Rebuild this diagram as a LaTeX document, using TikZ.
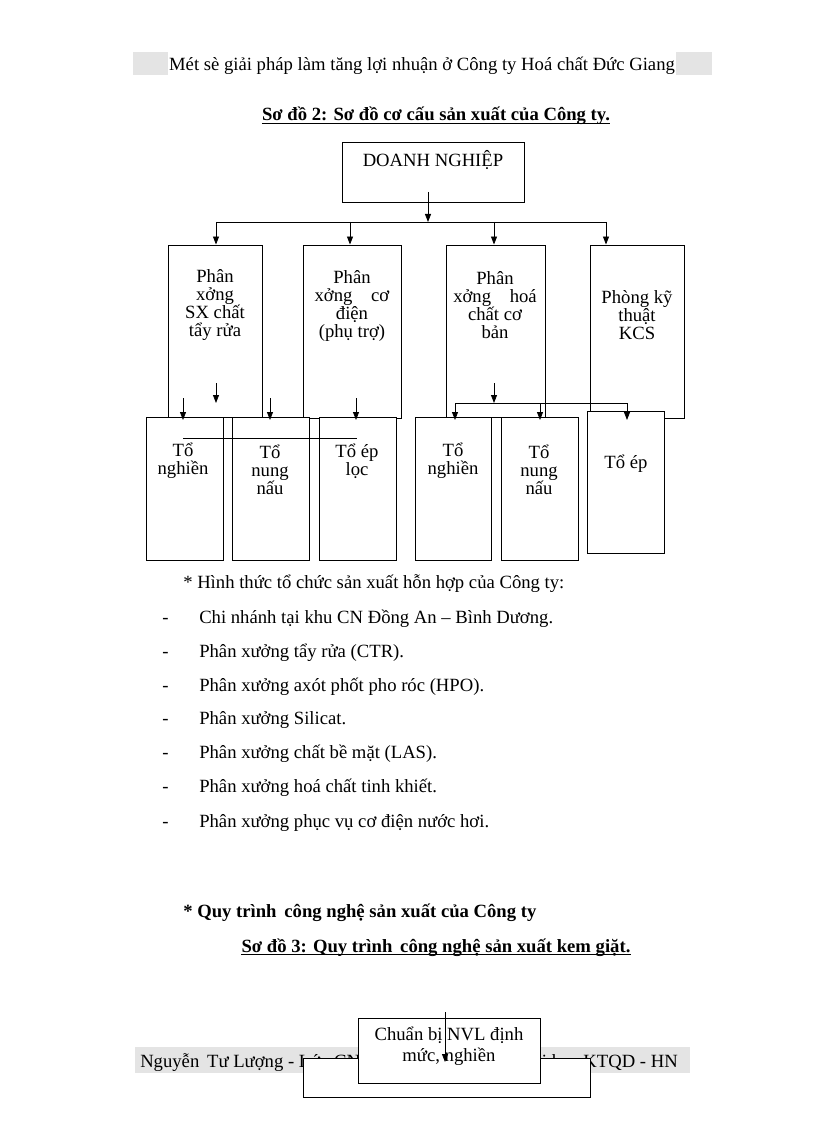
\documentclass[tikz,border=0pt]{standalone}
\usepackage{fontspec}
\setmainfont{Liberation Serif}
\usetikzlibrary{arrows.meta,fit}
\definecolor{band}{RGB}{228,228,228}
\begin{document}
\begin{tikzpicture}[x=0.75pt,y=-0.75pt,
  bx/.style={draw, line width=0.7pt, fill=white, inner sep=0pt},
  ar/.style={-{Triangle[length=6pt,width=4.5pt]}, line width=0.6pt},
  ln/.style={line width=0.6pt},
  ul/.style={line width=0.8pt},
  txt/.style={inner sep=0pt, font=\fontsize{14}{13.6}\selectfont, align=center},
  body/.style={inner sep=0pt, font=\fontsize{14}{16}\selectfont, anchor=base west},
  ctr/.style={inner sep=0pt, font=\fontsize{14}{16}\selectfont\bfseries, anchor=base},
]
\useasboundingbox (0,0) rectangle (816,1123);
% header
\fill[band] (133,52) rectangle (168,75);
\fill[band] (676,52) rectangle (712,75);
\node[inner sep=0pt, font=\fontsize{14}{16}\selectfont, anchor=base] (hdr) at (422,71) {Mét sè giải pháp làm tăng lợi nhuận ở Công ty Hoá chất Đức Giang};
\node[ctr] (t2) at (436,121) {Sơ đồ 2: Sơ đồ cơ cấu sản xuất của Công ty.};
\draw[ul] ([yshift=-2.2pt]t2.base west) -- ([yshift=-2.2pt]t2.base east);
% top box
\node[bx, fit={(342,142) (524,202)}] (dn) {};
\node[inner sep=0pt, font=\fontsize{14}{16}\selectfont, anchor=base] (dnt) at (433,167) {DOANH NGHIỆP};
\coordinate (bus) at (428,222);
\draw[ar] (428,192) -- (bus);
\draw[ln] (216,222) -- (606,222);
% level 2
\node[bx, fit={(168,245) (262,417)}] (pA) {};
\node[bx, fit={(303,245) (401,418)}] (pB) {};
\node[bx, fit={(446,245) (545,417)}] (pC) {};
\node[bx, fit={(590,245) (684,418)}] (pD) {};
\draw[ar] (216,222) -- (216,0 |- pA.north);
\draw[ar] (350,222) -- (350,0 |- pB.north);
\draw[ar] (494,222) -- (494,0 |- pC.north);
\draw[ar] (606,222) -- (606,0 |- pD.north);
\node[txt] (pAt) at (215,305) {Phân\\xởng\\SX chất\\tẩy rửa};
\node[txt] (pBt) at (352,306) {Phân\\xởng\quad cơ\\điện\\(phụ trợ)};
\node[txt] (pCt) at (495,305) {Phân\\xởng\quad hoá\\chất cơ\\bản};
\node[txt] (pDt) at (637,315) {Phòng kỹ\\thuật\\KCS};
% level 3
\node[bx, fit={(146,417) (223,560)}] (q1) {};
\node[bx, fit={(232,417) (309,560)}] (q2) {};
\node[bx, fit={(319,417) (396,560)}] (q3) {};
\node[bx, fit={(415,417) (491,560)}] (q4) {};
\node[bx, fit={(501,417) (578,560)}] (q5) {};
\node[bx, fit={(587,411) (664,553)}] (q6) {};
\node[txt] (q1t) at (183,461) {Tổ\\nghiền};
\node[txt] (q2t) at (270,470) {Tổ\\nung\\nấu};
\node[txt] (q3t) at (357,461) {Tổ ép\\lọc};
\node[txt] (q4t) at (453,461) {Tổ\\nghiền};
\node[txt] (q5t) at (539,470) {Tổ\\nung\\nấu};
\node[txt] (q6t) at (626,464) {Tổ ép};
% connectors level 3 (left)
\draw[ar] (216,383) -- (216,403);
\draw[ar] (183,398) -- (183,420);
\draw[ar] (270,398) -- (270,420);
\draw[ar] (356,398) -- (356,420);
\draw[ln] (183,438) -- (357,438);
% connectors level 3 (right)
\draw[ar] (494,383) -- (494,403);
\draw[ln] (455,403) -- (627,403);
\draw[ar] (455,403) -- (455,420);
\draw[ar] (540,403) -- (540,420);
\draw[ar] (627,403) -- (627,420);
% list
\node[body] (l0) at (183,588) {* Hình thức tổ chức sản xuất hỗn hợp của Công ty:};
\foreach \yy/\tt [count=\i] in {623/{Chi nhánh tại khu CN Đồng An – Bình Dương.},
  657/{Phân xưởng tẩy rửa (CTR).},
  691/{Phân xưởng axót phốt pho róc (HPO).},
  724/{Phân xưởng Silicat.},
  758/{Phân xưởng chất bề mặt (LAS).},
  792/{Phân xưởng hoá chất tinh khiết.},
  827/{Phân xưởng phục vụ cơ điện nước hơi.}}{
  \node[body] (d\i) at (162,\yy) {-};
  \node[body] (l\i) at (199,\yy) {\tt};
}
\node[inner sep=0pt, font=\fontsize{14}{16}\selectfont\bfseries, anchor=base west] (q) at (183,917) {* Quy trình\, công nghệ sản xuất của Công ty};
\node[ctr] (t3) at (436,952) {Sơ đồ 3: Quy trình\, công nghệ sản xuất kem giặt.};
\draw[ul] ([yshift=-2.2pt]t3.base west) -- ([yshift=-2.2pt]t3.base east);
% footer
\fill[band] (135,1047) rectangle (690,1073);
\node[inner sep=0pt, font=\fontsize{14}{16}\selectfont, anchor=base west] (fl) at (140,1067) {Nguyễn\, Tư Lượng - Lớp CN 45};
\node[inner sep=0pt, font=\fontsize{14}{16}\selectfont, anchor=base east] (fr) at (678,1067) {Đại học KTQD - HN};
\node[bx, fit={(303,1058) (590,1097)}] (ob) {};
\node[bx, fit={(358,1018) (540,1083)}] (ib) {};
\node[txt, font=\fontsize{14}{16}\selectfont] (ibt) at (449,1046) {Chuẩn bị NVL định\\mức, nghiền};
\draw[ar] (445,1012) -- (445,1062);
\end{tikzpicture}
\end{document}
